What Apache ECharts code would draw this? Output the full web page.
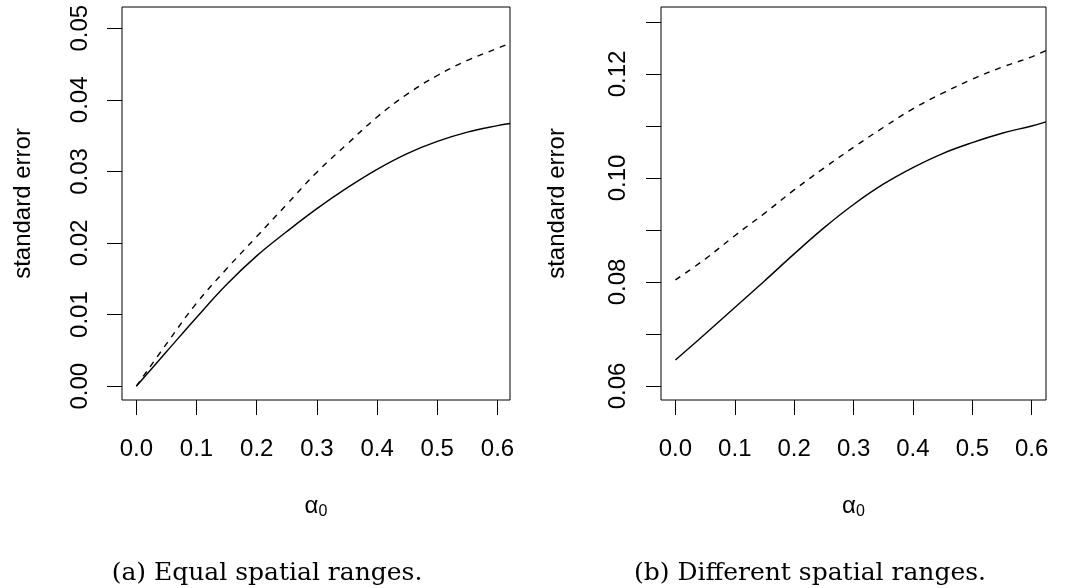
<!DOCTYPE html>
<html><head><meta charset="utf-8">
<script src="https://cdn.jsdelivr.net/npm/echarts@6/dist/echarts.min.js"></script>
<style>html,body{margin:0;padding:0;background:#fff}#c{width:1065px;height:588px}</style>
</head><body><div id="c"></div>
<script>
// x values (alpha_0)
const xA = [0, 0.05, 0.1, 0.15, 0.2, 0.25, 0.3, 0.35, 0.4, 0.45, 0.5, 0.55, 0.6, 0.621];
const solidA = [0, 0.0048, 0.0096, 0.0142, 0.0182, 0.0216, 0.0248, 0.0277, 0.0303, 0.0325, 0.0342, 0.0355, 0.0364, 0.0367];
const dashedA = [0, 0.0059, 0.0116, 0.0164, 0.0209, 0.0254, 0.0299, 0.0338, 0.0376, 0.0408, 0.0434, 0.0455, 0.0472, 0.0479];

const xB = [0, 0.05, 0.1, 0.15, 0.2, 0.25, 0.3, 0.35, 0.4, 0.45, 0.5, 0.55, 0.6, 0.624];
const solidB = [0.0650, 0.0700, 0.0751, 0.0802, 0.0854, 0.0904, 0.0949, 0.0988, 0.1020, 0.1047, 0.1068, 0.1086, 0.1100, 0.1108];
const dashedB = [0.0804, 0.0844, 0.0889, 0.0932, 0.0977, 0.1019, 0.1059, 0.1097, 0.1133, 0.1163, 0.1190, 0.1213, 0.1233, 0.1245];

const xTicks = [0, 0.1, 0.2, 0.3, 0.4, 0.5, 0.6];
const yTicksA = [0, 0.01, 0.02, 0.03, 0.04, 0.05];
const yTicksB = [0.06, 0.07, 0.08, 0.09, 0.10, 0.11, 0.12, 0.13];
const yLabelsB = [0.06, 0.08, 0.10, 0.12];

const yTitle = 'standard error';
const captions = ['(a) Equal spatial ranges.', '(b) Different spatial ranges.'];

const sans = 'Liberation Sans, Arial, sans-serif';
const FS = 24;

function pairs(xs, ys) { return xs.map((x, i) => [x, ys[i]]); }

function xAxisCfg(idx, min, max) {
  return {
    type: 'value', gridIndex: idx, min: min, max: max, position: 'bottom',
    splitLine: { show: false },
    axisLine: { show: false, onZero: false },
    axisTick: { show: true, inside: false, length: 15, customValues: xTicks, lineStyle: { color: '#000', width: 1 } },
    axisLabel: { show: true, customValues: xTicks, margin: 37, color: '#000', fontFamily: sans, fontSize: FS,
      formatter: v => v.toFixed(1) },
    name: '{a|α}{s|0}', nameLocation: 'middle', nameGap: 92,
    nameTextStyle: { color: '#000', fontFamily: sans,
      rich: { a: { fontSize: FS, fontFamily: sans, color: '#000' },
              s: { fontSize: 16, fontFamily: sans, color: '#000', padding: [12, 0, 0, 0] } } }
  };
}
function yAxisCfg(idx, min, max, ticks, labels, margin, gap) {
  return {
    type: 'value', gridIndex: idx, min: min, max: max, position: 'left',
    splitLine: { show: false },
    axisLine: { show: false, onZero: false },
    axisTick: { show: true, inside: false, length: 15, customValues: ticks, lineStyle: { color: '#000', width: 1 } },
    axisLabel: { show: true, customValues: labels, rotate: 90, margin: margin, color: '#000', fontFamily: sans, fontSize: FS,
      formatter: v => v.toFixed(2) },
    name: yTitle, nameLocation: 'middle', nameGap: gap, nameRotate: 90,
    nameTextStyle: { color: '#000', fontFamily: sans, fontSize: FS }
  };
}
function line(idx, xs, ys, dashed) {
  return {
    type: 'line', xAxisIndex: idx, yAxisIndex: idx, data: pairs(xs, ys),
    showSymbol: false, smooth: 0.4, silent: true, animation: false, clip: true,
    lineStyle: { color: '#000', width: 1.4, type: dashed ? [6, 6] : 'solid' }
  };
}

const chart = echarts.init(document.getElementById('c'), null, { renderer: 'canvas' });
chart.setOption({
  animation: false,
  backgroundColor: '#fff',
  grid: [
    { left: 122, top: 7, width: 388, height: 393, show: true, borderColor: '#000', borderWidth: 1, backgroundColor: 'transparent', containLabel: false },
    { left: 661, top: 7, width: 385, height: 393, show: true, borderColor: '#000', borderWidth: 1, backgroundColor: 'transparent', containLabel: false }
  ],
  xAxis: [ xAxisCfg(0, -0.0238, 0.6208), xAxisCfg(1, -0.0243, 0.6241) ],
  yAxis: [
    yAxisCfg(0, -0.00193, 0.05297, yTicksA, yTicksA, 30, 87),
    yAxisCfg(1, 0.0573, 0.13288, yTicksB, yLabelsB, 31, 92)
  ],
  series: [
    line(0, xA, solidA, false), line(0, xA, dashedA, true),
    line(1, xB, solidB, false), line(1, xB, dashedB, true)
  ],
  graphic: [
    { type: 'text', x: 267, y: 573, style: { text: captions[0], textAlign: 'center', textVerticalAlign: 'middle', font: '25px "DejaVu Serif", serif', fill: '#000' } },
    { type: 'text', x: 810, y: 573, style: { text: captions[1], textAlign: 'center', textVerticalAlign: 'middle', font: '25px "DejaVu Serif", serif', fill: '#000' } }
  ]
});
</script></body></html>
